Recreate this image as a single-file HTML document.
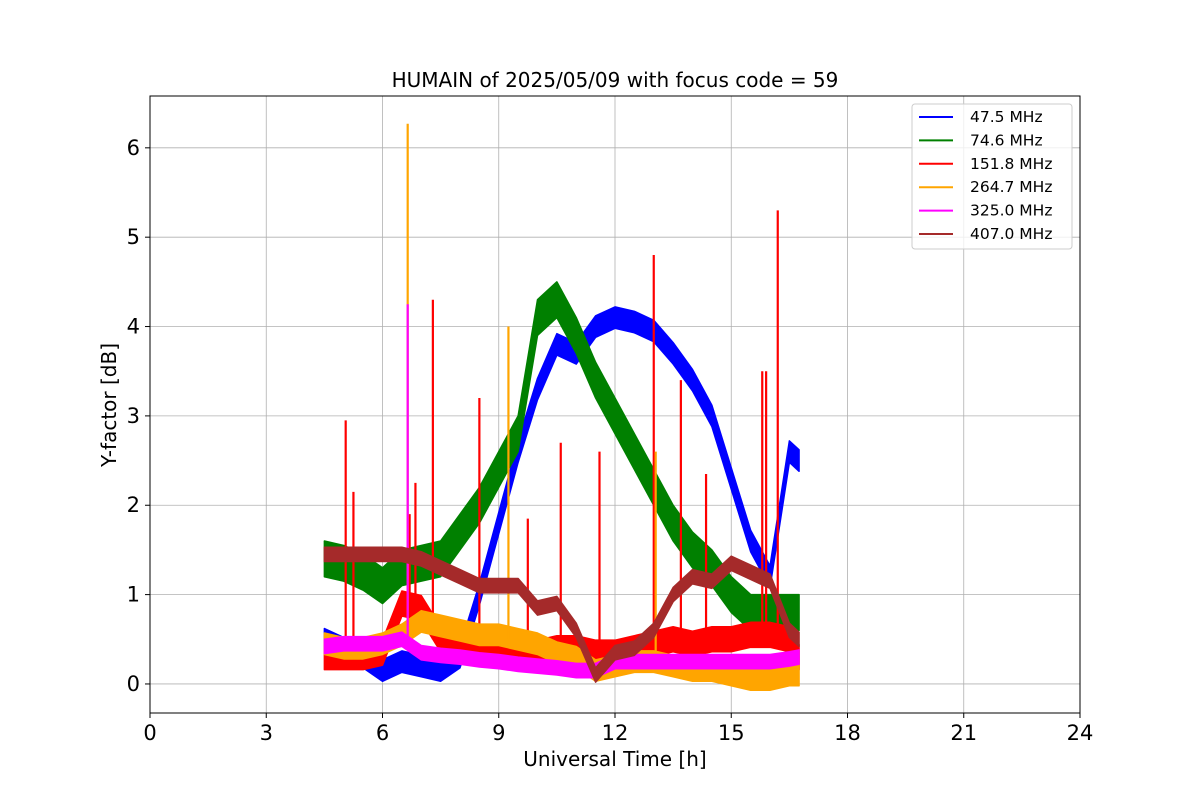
<!DOCTYPE html>
<html><head><meta charset="utf-8"><style>
body{margin:0;background:#fff;font-family:"Liberation Sans","DejaVu Sans",sans-serif}
svg text{font-family:"DejaVu Sans","Liberation Sans",sans-serif}
</style></head><body>
<svg id="c" width="1200" height="800" xmlns="http://www.w3.org/2000/svg"></svg>
<script>
const times=[4.5,5,5.5,6,6.5,7,7.5,8,8.5,9,9.5,10,10.5,11,11.5,12,12.5,13,13.5,14,14.5,15,15.5,16,16.5,16.75];
const blueVals=[0.5,0.4,0.3,0.15,0.25,0.2,0.15,0.3,1.0,1.8,2.6,3.3,3.8,3.7,4.0,4.1,4.05,3.95,3.7,3.4,3.0,2.3,1.6,1.2,2.6,2.5];
const greenVals=[1.4,1.35,1.25,1.1,1.3,1.35,1.4,1.7,2.0,2.4,2.8,4.1,4.3,3.9,3.4,3.0,2.6,2.2,1.8,1.5,1.3,1.0,0.8,0.8,0.8,0.8];
const redVals=[0.3,0.3,0.3,0.35,0.9,0.85,0.5,0.4,0.35,0.35,0.3,0.35,0.4,0.4,0.35,0.35,0.4,0.45,0.5,0.45,0.5,0.5,0.55,0.55,0.5,0.3];
const orangeVals=[0.45,0.4,0.4,0.45,0.55,0.7,0.65,0.6,0.55,0.55,0.5,0.45,0.35,0.3,0.15,0.2,0.25,0.25,0.2,0.15,0.15,0.1,0.05,0.05,0.1,0.1];
const magentaVals=[0.42,0.45,0.45,0.45,0.5,0.35,0.32,0.3,0.27,0.25,0.22,0.2,0.18,0.15,0.15,0.25,0.25,0.25,0.25,0.25,0.25,0.25,0.25,0.25,0.28,0.3];
const brownVals=[1.45,1.45,1.45,1.45,1.45,1.4,1.3,1.2,1.1,1.1,1.1,0.85,0.9,0.6,0.1,0.35,0.4,0.6,1.0,1.2,1.15,1.35,1.25,1.15,0.6,0.5];
const bandWidths=[0.12,0.2,0.14,0.12,0.08,0.08];
const seriesNames=[" 47.5 MHz"," 74.6 MHz","151.8 MHz","264.7 MHz","325.0 MHz","407.0 MHz"];
const redSpikeT=[5.05,5.25,6.7,6.85,7.3,8.5,9.75,10.6,11.6,13.0,13.7,14.35,15.8,15.9,16.2];
const redSpikeV=[2.95,2.15,1.9,2.25,4.3,3.2,1.85,2.7,2.6,4.8,3.4,2.35,3.5,3.5,5.3];
const orangeSpikeT=[6.65,9.25,13.05];
const orangeSpikeV=[6.27,4.0,2.6];
const magentaSpikeT=[6.65];
const magentaSpikeV=[4.25];
const xTicks=[0,3,6,9,12,15,18,21,24];
const yTicks=[0,1,2,3,4,5,6];

const NS="http://www.w3.org/2000/svg",svg=document.getElementById('c');
const L=150,R=1080,T=96,B=713,YMIN=-0.325,YMAX=6.58;
const X=t=>L+(t/24)*(R-L), Y=v=>B-(v-YMIN)/(YMAX-YMIN)*(B-T);
function mk(tag,at,parent){const e=document.createElementNS(NS,tag);for(const k in at)e.setAttribute(k,at[k]);(parent||svg).appendChild(e);return e;}
const colors=["#0000ff","#008000","#ff0000","#ffa500","#ff00ff","#a52a2a"];
const vals=[blueVals,greenVals,redVals,orangeVals,magentaVals,brownVals];
xTicks.forEach(t=>{const g=mk('line',{x1:X(t),x2:X(t),y1:T,y2:B,stroke:'#b0b0b0','stroke-width':0.8});

mk('line',{x1:X(t),x2:X(t),y1:B,y2:B+5,stroke:'#000'});
const tx=mk('text',{x:X(t),y:B+27,'text-anchor':'middle','font-size':21});tx.textContent=t;
});
yTicks.forEach(v=>{const g=mk('line',{x1:L,x2:R,y1:Y(v),y2:Y(v),stroke:'#b0b0b0','stroke-width':0.8});

mk('line',{x1:L-5,x2:L,y1:Y(v),y2:Y(v),stroke:'#000'});
const tx=mk('text',{x:L-10,y:Y(v)+7,'text-anchor':'end','font-size':21});tx.textContent=v;
});
function spikes(ts,vs,col,i){ts.forEach((t,k)=>{const base=vals[i][Math.min(times.length-1,Math.max(0,Math.round((t-4.5)/0.5)))];
const s=mk('line',{x1:X(t),x2:X(t),y1:Y(base),y2:Y(vs[k]),stroke:col,'stroke-width':2.2});
});}
vals.forEach((arr,i)=>{const w=bandWidths[i];
let up=times.map((t,k)=>X(t)+','+Y(arr[k]+w)),dn=times.map((t,k)=>X(t)+','+Y(arr[k]-w)).reverse();
const p=mk('polygon',{points:up.concat(dn).join(' '),fill:colors[i],stroke:colors[i],'stroke-width':1.5,'stroke-linejoin':'round'});

if(i===2)spikes(redSpikeT,redSpikeV,colors[2],2);
if(i===3)spikes(orangeSpikeT,orangeSpikeV,colors[3],3);
if(i===4)spikes(magentaSpikeT,magentaSpikeV,colors[4],4);});
const f=mk('rect',{x:L,y:T,width:R-L,height:B-T,fill:'none',stroke:'#000','stroke-width':1});

let t=mk('text',{x:615,y:87,'text-anchor':'middle','font-size':20});t.textContent='HUMAIN of 2025/05/09 with focus code = 59';

t=mk('text',{x:615,y:766,'text-anchor':'middle','font-size':20});t.textContent='Universal Time [h]';

t=mk('text',{x:116,y:405,'text-anchor':'middle','font-size':20,transform:'rotate(-90 116 405)'});t.textContent='Y-factor [dB]';

const lg=mk('rect',{x:912,y:104,width:160,height:145,rx:3,fill:'#fff','fill-opacity':0.8,stroke:'#ccc'});

seriesNames.forEach((n,i)=>{const y=117+i*23.4;
mk('line',{x1:919,x2:953,y1:y,y2:y,stroke:colors[i],'stroke-width':2});
const tx=mk('text',{x:970,y:y+5,'text-anchor':'start','font-size':15.5,'xml:space':'preserve'});tx.textContent=n;
});
</script>
</body></html>
